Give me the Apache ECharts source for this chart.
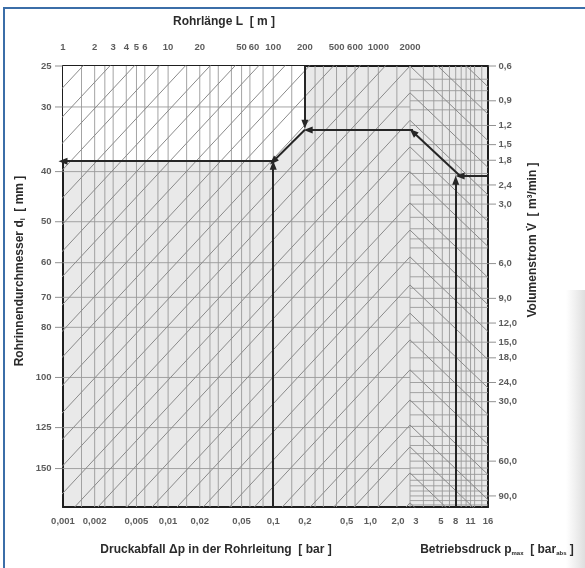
<!DOCTYPE html>
<html>
<head>
<meta charset="utf-8">
<script src="https://cdn.jsdelivr.net/npm/echarts@6/dist/echarts.min.js"></script>
<style>
  html, body { margin: 0; padding: 0; background: #fff; }
  #chart { width: 585px; height: 568px; }
</style>
</head>
<body>
<div id="chart"></div>
<script>
// ---------- Achsenbeschriftungen ----------
const laengeWerte = [1, 2, 3, 4, 5, 6, 10, 20, 50, 60, 100, 200, 500, 600, 1000, 2000];
const laengeTexte = ['1', '2', '3', '4', '5', '6', '10', '20', '50', '60', '100', '200', '500', '600', '1000', '2000'];
const druckabfallWerte = [0.001, 0.002, 0.005, 0.01, 0.02, 0.05, 0.1, 0.2, 0.5, 1.0, 2.0];
const druckabfallTexte = ['0,001', '0,002', '0,005', '0,01', '0,02', '0,05', '0,1', '0,2', '0,5', '1,0', '2,0'];
const betriebsdruckWerte = [3, 5, 8, 11, 16];
const betriebsdruckTexte = ['3', '5', '8', '11', '16'];
const durchmesserWerte = [25, 30, 40, 50, 60, 70, 80, 100, 125, 150];
const durchmesserTexte = ['25', '30', '40', '50', '60', '70', '80', '100', '125', '150'];
const volumenWerte = [0.6, 0.9, 1.2, 1.5, 1.8, 2.4, 3.0, 6.0, 9.0, 12.0, 15.0, 18.0, 24.0, 30.0, 60.0, 90.0];
const volumenTexte = ['0,6', '0,9', '1,2', '1,5', '1,8', '2,4', '3,0', '6,0', '9,0', '12,0', '15,0', '18,0', '24,0', '30,0', '60,0', '90,0'];

// ---------- Gitterlinien ----------
const druckabfallGitter = [0.0015, 0.002, 0.0025, 0.003, 0.004, 0.005, 0.006, 0.008, 0.01,
  0.015, 0.02, 0.025, 0.03, 0.04, 0.05, 0.06, 0.08, 0.1,
  0.15, 0.2, 0.25, 0.3, 0.4, 0.5, 0.6, 0.8, 1.0, 1.5, 2.0];
const durchmesserGitter = [30, 40, 50, 60, 70, 80, 100, 125, 150];
const betriebsdruckGitter = [4, 5, 6, 7, 8, 9, 10, 11, 12, 14];
const volumenGitter = [0.7, 0.8, 0.9, 1.0, 1.2, 1.5, 1.8, 2.1, 2.4, 2.7, 3.0, 3.5, 4.0, 4.5, 5.0,
  6.0, 7.0, 8.0, 9.0, 10, 12, 15, 18, 21, 24, 27, 30, 35, 40, 45, 50, 55, 60, 65, 70, 75, 80, 85, 90, 95, 100];
// Volumenstrom, bei dem jede Schräge die Trennlinie (2,0 bar | 3 bar) trifft
const knickpunkte = [0.0075, 0.010, 0.014, 0.019, 0.026, 0.036, 0.049, 0.067, 0.09, 0.125, 0.17, 0.23,
  0.32, 0.44, 0.6, 0.82, 1.13, 1.54, 2.06, 2.96, 4.06, 5.55, 7.7, 10.7, 14.6, 20.7, 29.4, 39.4, 50.8, 68.8, 97.6];
const exponentLinks = 1.75;   // dp ~ V^1.75
const exponentRechts = 0.52;  // V ~ p^0.52

// ---------- Ablesebeispiel ----------
const weissFlaeche = [[0.001, 38.2], [0.1, 38.2], [0.2, 33.2], [0.2, 25]];   // [dp, d]
const pfeileDurchmesser = [                                                 // [dp, d]
  [[0.1, 178], [0.1, 38.9]],
  [[0.1, 38.2], [0.001, 38.2]],
  [[0.2, 33.2], [0.1, 38.2]],
  [[0.2, 25], [0.2, 32.4]]
];
const pfeileVolumenLinks = [[[2.0, 1.265], [0.215, 1.265]]];              // [dp, V]
const pfeileVolumenRechts = [                                               // [p, V]
  [[8, 102.4], [8, 2.27]],
  [[16, 2.16], [8.8, 2.16]],
  [[8.8, 2.16], [3.2, 1.296]]
];
const linieRechts = [[[3.2, 1.265], [3, 1.265]]];
const ueberstandRechts = [[16, 2.16], [29, 2.16]];                          // Linie rechts außerhalb

// ---------- Bereiche ----------
const D_MIN = 25, D_MAX = 178, V_MIN = 0.6, V_MAX = 102.4;
const DP_MIN = 0.001, DP_MAX = 2.0, P_MIN = 3, P_MAX = 16;

const FONT = 'Liberation Sans';
const GRID_COLOR = '#9a9a9a';
const DIAG_COLOR = '#8a8a8a';
const FRAME = { color: '#1e1e1e', width: 2 };

const labelOffsets = { laenge: { 60: [4, 0], 500: [-10, 0] },
  druck: { '1,0': [-8, 0], '2,0': [-12, 0] }, betrieb: { '3': [6, 0], '5': [7, 0] } };

const series = [];

function seg(xi, yi, pts, color, width, z, clip) {
  series.push({
    type: 'line', xAxisIndex: xi, yAxisIndex: yi, data: pts,
    symbol: 'none', silent: true, animation: false, clip: clip !== false, z: z || 2,
    lineStyle: { color: color, width: width }
  });
}

// weisse Fläche oberhalb des Ablesewegs
series.push({
  type: 'line', xAxisIndex: 0, yAxisIndex: 0, data: weissFlaeche,
  symbol: 'none', silent: true, animation: false, z: 1,
  lineStyle: { width: 0 }, areaStyle: { color: '#ffffff', opacity: 1, origin: 'start' }
});

druckabfallGitter.forEach(v => seg(0, 0, [[v, D_MIN], [v, D_MAX]], GRID_COLOR, 0.9));
durchmesserGitter.forEach(d => seg(0, 0, [[DP_MIN, d], [DP_MAX, d]], GRID_COLOR, 0.9));
betriebsdruckGitter.forEach(p => seg(1, 2, [[p, V_MIN], [p, V_MAX]], GRID_COLOR, 0.9));
volumenGitter.forEach(v => seg(1, 2, [[P_MIN, v], [P_MAX, v]], GRID_COLOR, 0.9));

knickpunkte.forEach(vk => {
  seg(0, 1, [[DP_MAX, vk], [DP_MAX * Math.pow(vk / V_MAX, exponentLinks), V_MAX]], DIAG_COLOR, 1, 3);
  seg(1, 2, [[P_MIN, vk], [P_MAX, vk * Math.pow(P_MAX / P_MIN, exponentRechts)]], DIAG_COLOR, 1, 3);
});

function arrows(xi, yi, list, withHead) {
  series.push({
    type: 'line', xAxisIndex: xi, yAxisIndex: yi, data: [list[0][0]],
    symbol: 'none', silent: true, animation: false, clip: false, z: 6,
    lineStyle: { width: 0 },
    markLine: {
      silent: true, animation: false,
      symbol: withHead ? ['none', 'triangle'] : ['none', 'none'],
      symbolSize: [7, 9],
      label: { show: false },
      lineStyle: { color: '#262626', width: 2, type: 'solid' },
      emphasis: { disabled: true },
      data: list.map(s => [{ coord: s[0] }, { coord: s[1] }])
    }
  });
}
arrows(0, 0, pfeileDurchmesser, true);
arrows(0, 1, pfeileVolumenLinks, true);
arrows(1, 2, pfeileVolumenRechts, true);
arrows(1, 2, linieRechts, false);
seg(1, 2, ueberstandRechts, '#262626', 2, 6, false);

const labelStyle = { show: true, fontSize: 9.5, fontWeight: 'bold', fontFamily: FONT, color: '#333' };

function labels(xi, yi, pts, texts, pos, dist, offs) {
  series.push({
    type: 'scatter', xAxisIndex: xi, yAxisIndex: yi, silent: true, animation: false, clip: false,
    symbolSize: 1, itemStyle: { color: 'rgba(0,0,0,0)' }, z: 10,
    label: Object.assign({ position: pos, distance: dist }, labelStyle),
    data: pts.map((p, i) => ({
      value: p,
      label: { formatter: texts[i], offset: (offs && offs[texts[i]]) || [0, 0] }
    }))
  });
}
labels(2, 0, laengeWerte.map(v => [v, D_MIN]), laengeTexte, 'top', 13, labelOffsets.laenge);
labels(0, 0, druckabfallWerte.map(v => [v, D_MAX]), druckabfallTexte, 'bottom', 9, labelOffsets.druck);
labels(1, 2, betriebsdruckWerte.map(v => [v, V_MAX]), betriebsdruckTexte, 'bottom', 9, labelOffsets.betrieb);
labels(0, 0, durchmesserWerte.map(v => [DP_MIN, v]), durchmesserTexte, 'left', 11);
labels(1, 2, volumenWerte.map(v => [P_MAX, v]), volumenTexte, 'right', 10);

function ticks(xi, yi, pts, offset) {
  series.push({
    type: 'scatter', xAxisIndex: xi, yAxisIndex: yi, silent: true, animation: false, clip: false,
    symbol: 'rect', symbolSize: [8, 1], symbolOffset: offset, z: 4,
    itemStyle: { color: '#777' }, data: pts
  });
}
ticks(0, 0, durchmesserWerte.map(v => [DP_MIN, v]), [-4, 0]);
ticks(1, 2, volumenWerte.map(v => [P_MAX, v]), [4, 0]);

function logAxis(grid, pos, min, max, frame, inverse) {
  return {
    type: 'log', logBase: 10, gridIndex: grid, position: pos, min: min, max: max, inverse: !!inverse,
    axisLine: { show: frame, onZero: false, lineStyle: { color: FRAME.color, width: FRAME.width } },
    axisTick: { show: false }, axisLabel: { show: false }, splitLine: { show: false }
  };
}

const textStyle = (size) => ({ font: 'bold ' + size + 'px "' + FONT + '"', fill: '#2b2b2b' });

const option = {
  animation: false,
  backgroundColor: '#ffffff',
  grid: [
    { left: 63, top: 66, width: 347, height: 441, show: true, backgroundColor: '#e9e9e9', borderWidth: 0 },
    { left: 410, top: 66, width: 78, height: 441, show: true, backgroundColor: '#e9e9e9', borderWidth: 0 }
  ],
  xAxis: [
    logAxis(0, 'bottom', DP_MIN, DP_MAX, true),
    logAxis(1, 'bottom', P_MIN, P_MAX, true),
    logAxis(0, 'top', 1, 2000, true),
    logAxis(1, 'top', P_MIN, P_MAX, true)
  ],
  yAxis: [
    logAxis(0, 'left', D_MIN, D_MAX, true, true),
    logAxis(0, 'right', V_MIN, V_MAX, false, true),
    logAxis(1, 'right', V_MIN, V_MAX, true, true)
  ],
  series: series,
  graphic: [
    { type: 'rect', shape: { x: 566, y: 290, width: 19, height: 278 }, silent: true,
      style: { fill: new echarts.graphic.LinearGradient(0, 0, 1, 0, [
        { offset: 0, color: 'rgba(200,200,200,0)' }, { offset: 1, color: 'rgba(195,195,195,0.55)' }]) } },
    { type: 'rect', shape: { x: 4, y: 8, width: 700, height: 700 },
      style: { fill: 'none', stroke: '#3b6ea8', lineWidth: 2 }, silent: true },
    { type: 'text', x: 224, y: 22, silent: true,
      style: Object.assign({ text: 'Rohrlänge L  [ m ]', align: 'center', verticalAlign: 'middle' }, textStyle(12)) },
    { type: 'text', x: 216, y: 550, silent: true,
      style: Object.assign({ text: 'Druckabfall Δp in der Rohrleitung  [ bar ]', align: 'center', verticalAlign: 'middle' }, textStyle(12)) },
    { type: 'text', x: 497, y: 550, silent: true,
      style: {
        text: '{a|Betriebsdruck p}{s|max}{a|  [ bar}{s|abs}{a| ]}', align: 'center', verticalAlign: 'middle',
        rich: {
          a: textStyle(12),
          s: Object.assign({ padding: [7, 0, 0, 0] }, textStyle(6))
        }
      } },
    { type: 'text', x: 20, y: 271, rotation: Math.PI / 2, silent: true,
      style: {
        text: '{a|Rohrinnendurchmesser d}{s|i}{a|  [ mm ]}', align: 'center', verticalAlign: 'middle',
        rich: {
          a: textStyle(12),
          s: Object.assign({ padding: [6, 0, 0, 0] }, textStyle(7))
        }
      } },
    { type: 'text', x: 533, y: 240, rotation: Math.PI / 2, silent: true,
      style: Object.assign({ text: 'Volumenstrom V̇  [ m³/min ]', align: 'center', verticalAlign: 'middle' }, textStyle(12)) }
  ]
};

const chart = echarts.init(document.getElementById('chart'), null, { renderer: 'canvas' });
chart.setOption(option);
</script>
</body>
</html>
